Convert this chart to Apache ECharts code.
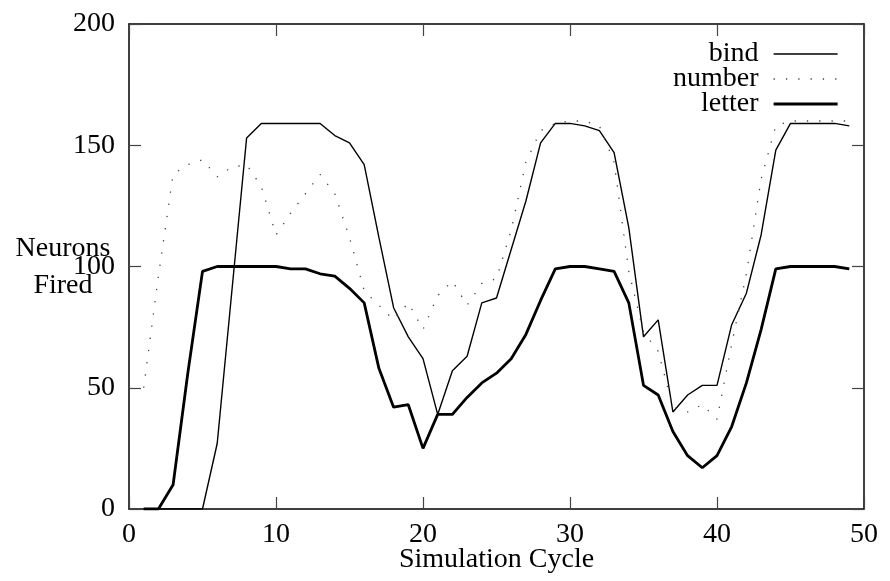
<!DOCTYPE html>
<html>
<head>
<meta charset="utf-8">
<script src="https://cdn.jsdelivr.net/npm/echarts@6/dist/echarts.min.js"></script>
<style>
  html, body { margin: 0; padding: 0; background: #fff; }
  #chart { width: 890px; height: 581px; }
</style>
</head>
<body>
<div id="chart"></div>
<script>
// Simulation cycles 1..49
const cycles = [1,2,3,4,5,6,7,8,9,10,11,12,13,14,15,16,17,18,19,20,21,22,23,24,25,
                26,27,28,29,30,31,32,33,34,35,36,37,38,39,40,41,42,43,44,45,46,47,48,49];

// Neurons fired per assembly
const bind = [0,0,0,0,0,27,90,153,159,159,159,159,159,154,151,142,112,83,71,62,39,57,63,85,87,
              107,127,151,159,159,158,156,147,116,71,78,40,47,51,51,76,89,113,148,159,159,159,159,158];
const number = [50,96,138,142,144,137,141,142,133,113,122,130,138,130,112,90,84,78,85,74,88,94,84,93,95,
                115,143,156,159,160,160,158,143,98,73,65,42,40,43,37,68,97,136,158,160,160,160,160,160];
const letter = [0,0,10,56,98,100,100,100,100,100,99,99,97,96,91,85,58,42,43,25,39,39,46,52,56,
                62,72,86,99,100,100,99,98,85,51,47,32,22,17,22,34,52,74,99,100,100,100,100,99];

const xTicks = { min: 0, max: 50, interval: 10 };
const yTicks = { min: 0, max: 200, interval: 50 };

const FONT = '"Liberation Serif", "DejaVu Serif", serif';

function pairs(values) {
  return cycles.map((c, i) => [c, values[i]]);
}

const chart = echarts.init(document.getElementById('chart'), null, { renderer: 'canvas' });

const axisLine = { show: true, onZero: false, lineStyle: { color: '#000', width: 1.5 } };
const tick = { show: true, inside: true, length: 12, lineStyle: { color: '#444', width: 1.2 } };

const thin = { color: '#000', width: 1.4 };
const dotted = { color: '#444', width: 1.3, type: [1.3, 11] };
const thick = { color: '#000', width: 2.8 };

chart.setOption({
  animation: false,
  backgroundColor: '#fff',
  grid: { left: 129, right: 26, top: 24, bottom: 72, containLabel: false, outerBoundsMode: 'none' },
  xAxis: [
    {
      type: 'value', position: 'bottom',
      min: xTicks.min, max: xTicks.max, interval: xTicks.interval,
      axisLine, axisTick: tick, splitLine: { show: false },
      axisLabel: { fontFamily: FONT, fontSize: 28, color: '#000', margin: 12 },
      name: 'Simulation Cycle', nameLocation: 'middle', nameGap: 37, nameMoveOverlap: false,
      nameTextStyle: { fontFamily: FONT, fontSize: 28, color: '#000' }
    },
    {
      type: 'value', position: 'top',
      min: xTicks.min, max: xTicks.max, interval: xTicks.interval,
      axisLine, axisTick: tick, splitLine: { show: false },
      axisLabel: { show: false }
    }
  ],
  yAxis: [
    {
      type: 'value', position: 'left',
      min: yTicks.min, max: yTicks.max, interval: yTicks.interval,
      axisLine, axisTick: tick, splitLine: { show: false },
      axisLabel: { fontFamily: FONT, fontSize: 28, color: '#000', margin: 14 }
    },
    {
      type: 'value', position: 'right',
      min: yTicks.min, max: yTicks.max, interval: yTicks.interval,
      axisLine, axisTick: tick, splitLine: { show: false },
      axisLabel: { show: false }
    }
  ],
  legend: {
    orient: 'vertical',
    right: 46, top: 35,
    align: 'right',
    icon: 'inherit',
    itemWidth: 64, itemHeight: 14, itemGap: -3,
    itemStyle: { opacity: 0, borderWidth: 0 },
    textStyle: { fontFamily: FONT, fontSize: 28, color: '#000', lineHeight: 25, padding: [0, 10, 0, 0] },
    data: [
      { name: 'bind', lineStyle: thin },
      { name: 'number', lineStyle: dotted },
      { name: 'letter', lineStyle: thick }
    ]
  },
  graphic: [
    {
      type: 'text', left: 10, top: 230,
      style: {
        text: 'Neurons\nFired', font: '28px ' + FONT, fill: '#000',
        textAlign: 'center', lineHeight: 37, width: 106
      }
    }
  ],
  series: [
    {
      name: 'bind', type: 'line', data: pairs(bind),
      showSymbol: false, symbol: 'none',
      lineStyle: thin, itemStyle: { color: '#000' }
    },
    {
      name: 'number', type: 'line', data: pairs(number),
      showSymbol: false, symbol: 'none',
      lineStyle: dotted, itemStyle: { color: '#444' }
    },
    {
      name: 'letter', type: 'line', data: pairs(letter),
      showSymbol: false, symbol: 'none',
      lineStyle: thick, itemStyle: { color: '#000' }
    }
  ]
});
</script>
</body>
</html>
